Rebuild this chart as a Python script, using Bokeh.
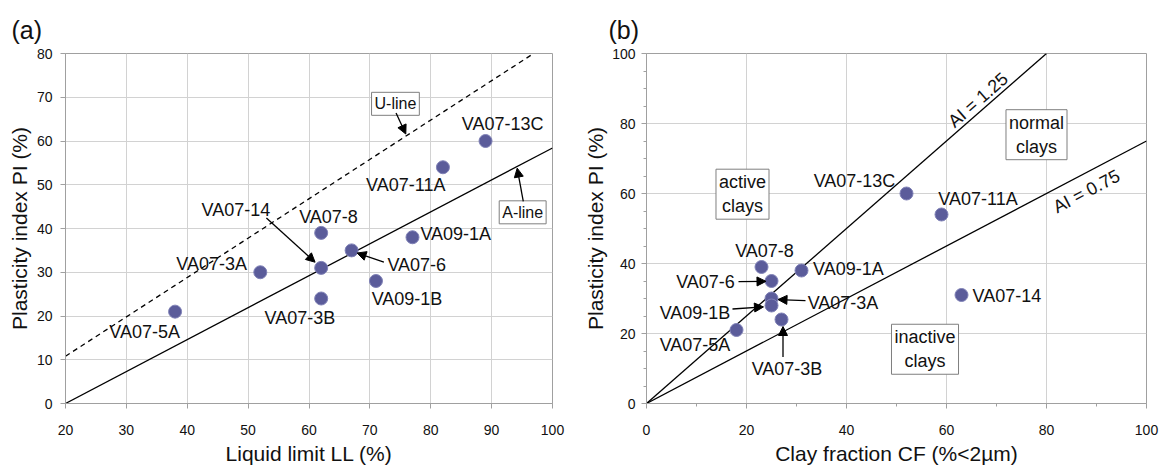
from bokeh.plotting import figure
from bokeh.models import Range1d, FixedTicker, Label, Arrow, NormalHead
from bokeh.layouts import row
from bokeh.embed import file_html
from bokeh.resources import INLINE

# ---------------- data ----------------
samples = ["VA07-5A", "VA07-3A", "VA07-14", "VA07-8", "VA07-3B",
           "VA07-6", "VA09-1B", "VA09-1A", "VA07-11A", "VA07-13C"]
liquid_limit = [38, 52, 62, 62, 62, 67, 71, 77, 82, 89]
plasticity_index = [21, 30, 31, 39, 24, 35, 28, 38, 54, 60]
clay_fraction = [18, 25, 63, 23, 27, 25, 25, 31, 59, 52]

a_line_ll = [20, 100]
a_line_pi = [0, 58.4]
u_line_ll = [20, 96.9]
u_line_pi = [10.8, 80]
ai125_cf = [0, 80]
ai125_pi = [0, 100]
ai075_cf = [0, 100]
ai075_pi = [0, 75]

ticks_a_x = list(range(20, 101, 10))
ticks_a_y = list(range(0, 81, 10))
ticks_b = list(range(0, 101, 20))
minor_b_x = list(range(10, 100, 20))
minor_b_y = [v for v in range(0, 101, 5) if v % 20]

FONT = "Liberation Sans"
AX = "#a0a0a0"
GRID = "#d2d2d2"
MFILL = "#5b5c9a"
MLINE = "#7f81b6"


def make_fig(width, xr, yr, bl, br, title, title_offset):
    p = figure(width=width, height=468, x_range=Range1d(*xr), y_range=Range1d(*yr),
               output_backend="svg", toolbar_location=None,
               min_border_left=bl, min_border_right=br, min_border_top=53, min_border_bottom=65)
    p.title.text = title
    p.title.align = "left"
    p.title.offset = title_offset
    p.title.text_font = FONT
    p.title.text_font_size = "25px"
    p.title.text_font_style = "normal"
    p.title.text_color = "#111111"
    p.title.standoff = 19
    p.outline_line_color = AX
    p.background_fill_color = "white"
    p.border_fill_color = "white"
    for ax in (p.xaxis[0], p.yaxis[0]):
        ax.axis_line_color = AX
        ax.major_tick_line_color = AX
        ax.minor_tick_line_color = AX
        ax.major_tick_out = 5
        ax.major_tick_in = 0
        ax.minor_tick_out = 3
        ax.minor_tick_in = 0
        ax.major_label_text_font = FONT
        ax.major_label_text_font_size = "14px"
        ax.major_label_text_color = "#111111"
        ax.axis_label_text_font = FONT
        ax.axis_label_text_font_size = "21px"
        ax.axis_label_text_font_style = "normal"
        ax.axis_label_text_color = "#111111"
    p.xaxis.major_label_standoff = 16
    p.xaxis.axis_label_standoff = 4
    p.yaxis.major_label_standoff = 8
    p.yaxis.axis_label_standoff = 3
    p.grid.grid_line_color = GRID
    return p


def lab(p, x, y, text, align="center", size="18px", angle=0.0, boxed=False):
    kw = {}
    if boxed:
        kw = dict(border_line_color="#7f7f7f", background_fill_color="white", padding=3)
    p.add_layout(Label(x=x, y=y, text=text, text_align=align, text_baseline="middle",
                       text_font=FONT, text_font_size=size, text_color="#111111",
                       angle=angle, **kw))


def arrow(p, x0, y0, x1, y1):
    p.add_layout(Arrow(end=NormalHead(size=9, fill_color="black", line_color="black"),
                       x_start=x0, y_start=y0, x_end=x1, y_end=y1,
                       line_color="black", line_width=1.3))


# ---------------- panel (a) ----------------
p1 = make_fig(575, (20, 100), (0, 80), 65, 23, "(a)", -54)
p1.xaxis.ticker = FixedTicker(ticks=ticks_a_x)
p1.yaxis.ticker = FixedTicker(ticks=ticks_a_y)
p1.xgrid.ticker = FixedTicker(ticks=ticks_a_x)
p1.ygrid.ticker = FixedTicker(ticks=ticks_a_y)
p1.xaxis.axis_label = "Liquid limit LL (%)"
p1.yaxis.axis_label = "Plasticity index PI (%)"

p1.line(u_line_ll, u_line_pi, line_color="black", line_width=1.3, line_dash="5 4")
p1.line(a_line_ll, a_line_pi, line_color="black", line_width=1.3)
p1.scatter(liquid_limit, plasticity_index, size=13, fill_color=MFILL, line_color=MLINE, line_width=1)

labels_a = {
    "VA07-13C": (91.8, 63.8, "center"),
    "VA07-11A": (75.9, 50.0, "center"),
    "VA09-1A": (78.3, 38.8, "left"),
    "VA07-8": (63.2, 42.7, "center"),
    "VA07-14": (48.0, 44.2, "center"),
    "VA07-3A": (44.0, 31.9, "center"),
    "VA07-6": (77.7, 31.7, "center"),
    "VA09-1B": (76.1, 23.9, "center"),
    "VA07-3B": (58.5, 19.6, "center"),
    "VA07-5A": (33.0, 16.4, "center"),
}
for s in samples:
    x, y, al = labels_a[s]
    lab(p1, x, y, s, align=al)

lab(p1, 74.2, 68.5, "U-line", size="16px", boxed=True)
lab(p1, 95.1, 43.7, "A-line", size="16px", boxed=True)
arrow(p1, 74.3, 66.4, 75.9, 61.6)
arrow(p1, 95.2, 46.2, 94.2, 53.8)
arrow(p1, 53.0, 42.4, 61.0, 32.3)
arrow(p1, 72.3, 32.3, 67.9, 34.4)

# ---------------- panel (b) ----------------
p2 = make_fig(591, (0, 100), (0, 100), 71, 20, "(b)", -38)
p2.xaxis.ticker = FixedTicker(ticks=ticks_b, minor_ticks=minor_b_x)
p2.yaxis.ticker = FixedTicker(ticks=ticks_b, minor_ticks=minor_b_y)
p2.xgrid.ticker = FixedTicker(ticks=ticks_b)
p2.ygrid.ticker = FixedTicker(ticks=ticks_b)
p2.yaxis.major_label_standoff = 6
p2.yaxis.axis_label_standoff = 2
p2.xaxis.axis_label = "Clay fraction CF (%<2µm)"
p2.yaxis.axis_label = "Plasticity index PI (%)"

p2.line(ai125_cf, ai125_pi, line_color="black", line_width=1.3)
p2.line(ai075_cf, ai075_pi, line_color="black", line_width=1.3)
p2.scatter(clay_fraction, plasticity_index, size=13, fill_color=MFILL, line_color=MLINE, line_width=1)

labels_b = {
    "VA07-13C": (41.6, 63.5, "center"),
    "VA07-11A": (66.3, 58.3, "center"),
    "VA07-8": (23.6, 43.5, "center"),
    "VA09-1A": (33.3, 38.3, "left"),
    "VA07-6": (11.8, 34.6, "center"),
    "VA07-3A": (39.3, 28.8, "center"),
    "VA09-1B": (9.7, 25.9, "center"),
    "VA07-5A": (9.7, 16.6, "center"),
    "VA07-3B": (28.1, 10.0, "center"),
    "VA07-14": (65.2, 30.8, "left"),
}
for s in samples:
    x, y, al = labels_b[s]
    lab(p2, x, y, s, align=al)

lab(p2, 66.3, 86.7, "AI = 1.25", angle=0.72)
lab(p2, 88.0, 60.6, "AI = 0.75", angle=0.485)
lab(p2, 78.0, 76.8, "normal\nclays", boxed=True)
lab(p2, 19.2, 59.8, "active\nclays", boxed=True)
lab(p2, 55.7, 15.5, "inactive\nclays", boxed=True)

arrow(p2, 18.4, 34.8, 23.9, 34.9)
arrow(p2, 31.8, 29.4, 26.3, 29.7)
arrow(p2, 17.2, 27.0, 23.4, 27.6)
arrow(p2, 27.3, 13.3, 27.3, 22.0)

layout = row(p1, p2)
open("out.html", "w").write(file_html(layout, INLINE))
